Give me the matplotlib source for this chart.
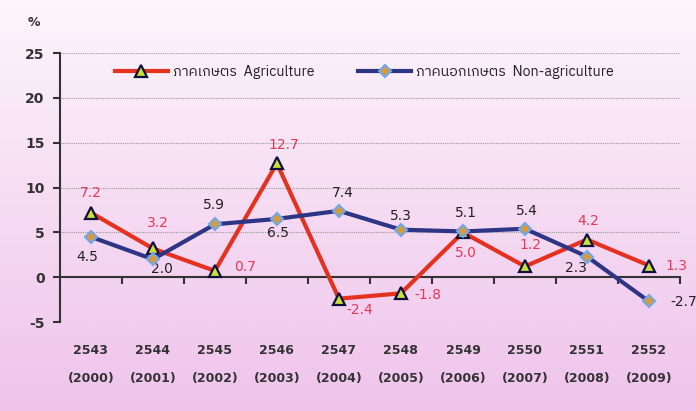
import matplotlib
matplotlib.use('Agg')
import numpy as np
import matplotlib.pyplot as plt
import matplotlib.transforms as mtransforms
from matplotlib import font_manager
from matplotlib.colors import LinearSegmentedColormap

# data
years_th = ['2543', '2544', '2545', '2546', '2547', '2548', '2549', '2550', '2551', '2552']
years_ad = ['(2000)', '(2001)', '(2002)', '(2003)', '(2004)', '(2005)', '(2006)', '(2007)', '(2008)', '(2009)']
agri = [7.2, 3.2, 0.7, 12.7, -2.4, -1.8, 5.0, 1.2, 4.2, 1.3]
nonagri = [4.5, 2.0, 5.9, 6.5, 7.4, 5.3, 5.1, 5.4, 2.3, -2.7]
agri_name = 'ภาคเกษตร  Agriculture'
nonagri_name = 'ภาคนอกเกษตร  Non-agriculture'

# pick up whatever Thai family is installed
names = sorted(set(f.name for f in font_manager.fontManager.ttflist))
thai = [n for n in names if 'Thai' in n or 'Loma' in n or 'Garuda' in n or 'Sarabun' in n]
plt.rcParams['font.family'] = ['DejaVu Sans'] + thai
plt.rcParams['axes.unicode_minus'] = False

RED = '#e5311f'
BLUE = '#2e3585'
LBL_RED = '#e23a55'
LBL_DARK = '#222222'
INK = '#333333'

fig = plt.figure(figsize=(6.96, 4.11), dpi=100)

# pink background, lighter at the top
bg = fig.add_axes([0, 0, 1, 1], zorder=-1)
bg_cmap = LinearSegmentedColormap.from_list('bg', ['#fdf6fc', '#f6dcf3', '#efc3ec'])
bg.imshow(np.linspace(0, 1, 256).reshape(-1, 1), aspect='auto', cmap=bg_cmap, extent=[0, 1, 0, 1])
bg.axis('off')

ax = fig.add_axes([0.086, 0.2165, 0.891, 0.6545])
ax.set_facecolor('none')

x = np.arange(len(years_th))
ax.plot(x, agri, color=RED, lw=3, marker='^', ms=8, mfc='#c9e03a', mec='#101040', mew=1.6,
        label=agri_name, zorder=3)
ax.plot(x, nonagri, color=BLUE, lw=3, marker='D', ms=6, mfc='#d99a3a', mec='#6fa8e8', mew=1.5,
        label=nonagri_name, zorder=4)

ax.set_xlim(-0.5, 9.5)
ax.set_ylim(-5, 25)
ax.set_yticks([-5, 0, 5, 10, 15, 20, 25])
ax.grid(axis='y', color='#9a9a9a', ls=(0, (1, 1)), lw=0.8)
ax.set_axisbelow(True)

for s in ['top', 'right']:
    ax.spines[s].set_visible(False)
ax.spines['bottom'].set_position(('data', 0))
ax.spines['bottom'].set_color(INK)
ax.spines['bottom'].set_linewidth(1.5)
ax.spines['left'].set_color(INK)
ax.spines['left'].set_linewidth(1.5)
ax.set_xticks(np.arange(0.5, 10, 1))
ax.tick_params(axis='x', labelbottom=False, length=5, width=1.5, color=INK)
ax.tick_params(axis='y', length=5, width=1.5, color=INK, labelsize=10, labelcolor=INK, pad=6)
for t in ax.get_yticklabels():
    t.set_fontweight('bold')

tr = mtransforms.blended_transform_factory(ax.transData, fig.transFigure)
for i in x:
    ax.text(i, 1 - 350 / 411, years_th[i], transform=tr, ha='center', va='center',
            fontsize=9, fontweight='bold', color=INK)
    ax.text(i, 1 - 378 / 411, years_ad[i], transform=tr, ha='center', va='center',
            fontsize=9, fontweight='bold', color=INK)

fig.text(28 / 696, 1 - 22 / 411, '%', ha='left', va='center', fontsize=9, fontweight='bold', color=INK)

# value label offsets in pixels (dx, dy)
agri_off = [(0, 20), (5, 25), (30, 4), (7, 18), (21, -11), (27, -2), (3, -21), (5, 21), (1, 19), (27, 0)]
non_off = [(-4, -20), (9, -10), (-1, 19), (1, -14), (4, 18), (0, 14), (3, 18), (2, 18), (-11, -11), (35, -1)]
for i in x:
    ax.annotate('%.1f' % agri[i], (i, agri[i]), xytext=agri_off[i], textcoords='offset pixels',
                ha='center', va='center', fontsize=10, color=LBL_RED)
    ax.annotate('%.1f' % nonagri[i], (i, nonagri[i]), xytext=non_off[i], textcoords='offset pixels',
                ha='center', va='center', fontsize=10, color=LBL_DARK)

leg = ax.legend(loc='center', bbox_to_anchor=(0.491, 1 - (72 - 53) / 269), ncol=2, frameon=False,
                fontsize=10.3, handlelength=3.7, columnspacing=3.1, handletextpad=0.35)
for t in leg.get_texts():
    t.set_family(thai + ['DejaVu Sans'])
    t.set_color('#222222')

fig.savefig('out.png', dpi=100)
